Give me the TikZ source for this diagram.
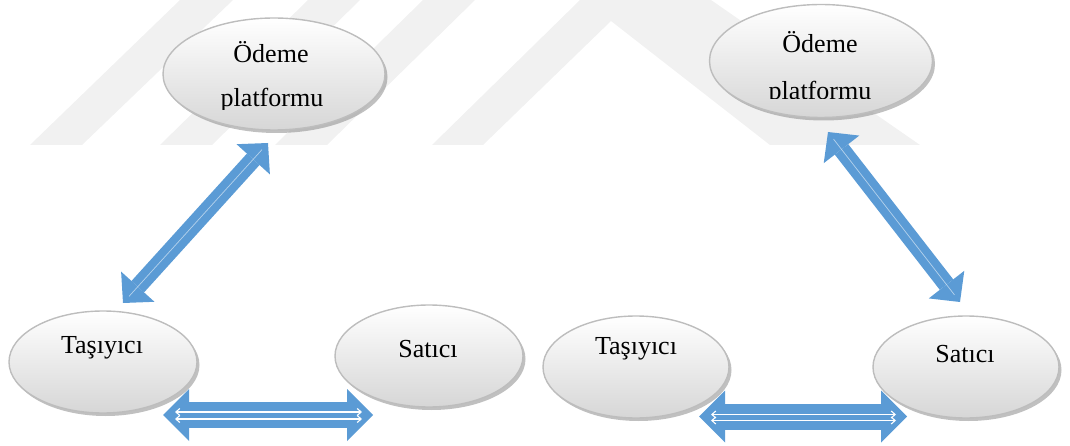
\documentclass[tikz,border=0pt]{standalone}
\usepackage{fontspec}
\setmainfont{Liberation Serif}
\usetikzlibrary{shapes.geometric,arrows.meta,shadows,calc}
\definecolor{arrowblue}{HTML}{5B9BD5}
\definecolor{markgray}{HTML}{F1F1F1}
\definecolor{rimgray}{HTML}{BDBDBD}
\begin{document}
\begin{tikzpicture}[x=1pt,y=-1pt,
  bubble/.style={ellipse, draw=rimgray, line width=1.4pt, inner sep=0pt,
    top color=white, bottom color=black!16,
    drop shadow={shadow xshift=2.5pt, shadow yshift=-3pt, fill=black!45, opacity=.55}},
  word/.style={font=\fontsize{26}{30}\selectfont, anchor=base, inner sep=0pt},
  harrow/.style={draw=arrowblue, line width=26pt,
    {Triangle[width=52pt,length=26pt,line width=0pt]}-{Triangle[width=52pt,length=26pt,line width=0pt]}},
  darrow/.style={draw=arrowblue, line width=17pt,
    {Triangle[width=45pt,length=22pt,line width=0pt]}-{Triangle[width=45pt,length=22pt,line width=0pt]}},
  innerpair/.style={white, line width=1.1pt,
    {Straight Barb[length=4pt,width=7pt]}-{Straight Barb[length=4pt,width=7pt]}},
  innerline/.style={white, opacity=.55, line width=.7pt, shorten <=9pt, shorten >=9pt}]
\useasboundingbox (0,0) rectangle (1070,446);

% faint background mark
\fill[markgray] (30,145) -- (82,145) -- (233,0) -- (180,0) -- cycle;
\fill[markgray] (160,145) -- (212,145) -- (360,0) -- (308,0) -- cycle;
\fill[markgray] (275,145) -- (327,145) -- (475,0) -- (423,0) -- cycle;
\fill[markgray] (432,145) -- (580,0) -- (711,0) -- (920,145) -- (770,145)
  -- (611,21) -- (483,145) -- cycle;

% ---- first triangle ----
\node[bubble, minimum width=222pt, minimum height=112pt] (odemeA) at (274,74) {};
\node[bubble, minimum width=188pt, minimum height=102pt] (tasA) at (103,362) {};
\node[bubble, minimum width=188pt, minimum height=102pt] (satA) at (429,356) {};

\node[word] (odemeA1) at (271,63) {Ödeme};
\begin{scope}
  \clip (160,70) rectangle (390,110);
  \node[word] (odemeA2) at (272,107) {platformu};
\end{scope}
\node[word] (tasAt) at (102,353) {Taşıyıcı};
\node[word] (satAt) at (428,357) {Satıcı};

\coordinate (dA1) at (268,143);
\coordinate (dA2) at (123,303);
\draw[darrow] (dA2) -- (dA1);
\draw[innerline] (dA2) -- (dA1);

\coordinate (hA1) at (163,415);
\coordinate (hA2) at (373,415);
\draw[harrow] (hA1) -- (hA2);
\draw[innerpair] ($(hA1)+(12,-3)$) -- ($(hA2)+(-11,-3)$);
\draw[innerpair] ($(hA1)+(12,4)$) -- ($(hA2)+(-11,4)$);

% ---- second triangle ----
\node[bubble, minimum width=223pt, minimum height=113pt] (odemeB) at (821,61) {};
\node[bubble, minimum width=186pt, minimum height=102pt] (tasB) at (636,367) {};
\node[bubble, minimum width=186pt, minimum height=102pt] (satB) at (966,367) {};

\node[word] (odemeB1) at (820,53) {Ödeme};
\begin{scope}
  \clip (700,60) rectangle (940,98.5);
  \node[word] (odemeB2) at (820,100) {platformu};
\end{scope}
\node[word] (tasBt) at (636,354) {Taşıyıcı};
\node[word] (satBt) at (965,362) {Satıcı};

\coordinate (dB1) at (828,132);
\coordinate (dB2) at (960,302);
\draw[darrow] (dB1) -- (dB2);
\draw[innerline] (dB1) -- (dB2);

\coordinate (hB1) at (699,416.5);
\coordinate (hB2) at (907,416.5);
\draw[harrow] (hB1) -- (hB2);
\draw[innerpair] ($(hB1)+(12,-2)$) -- ($(hB2)+(-11,-2)$);
\draw[innerpair] ($(hB1)+(12,4)$) -- ($(hB2)+(-11,4)$);
\end{tikzpicture}
\end{document}
